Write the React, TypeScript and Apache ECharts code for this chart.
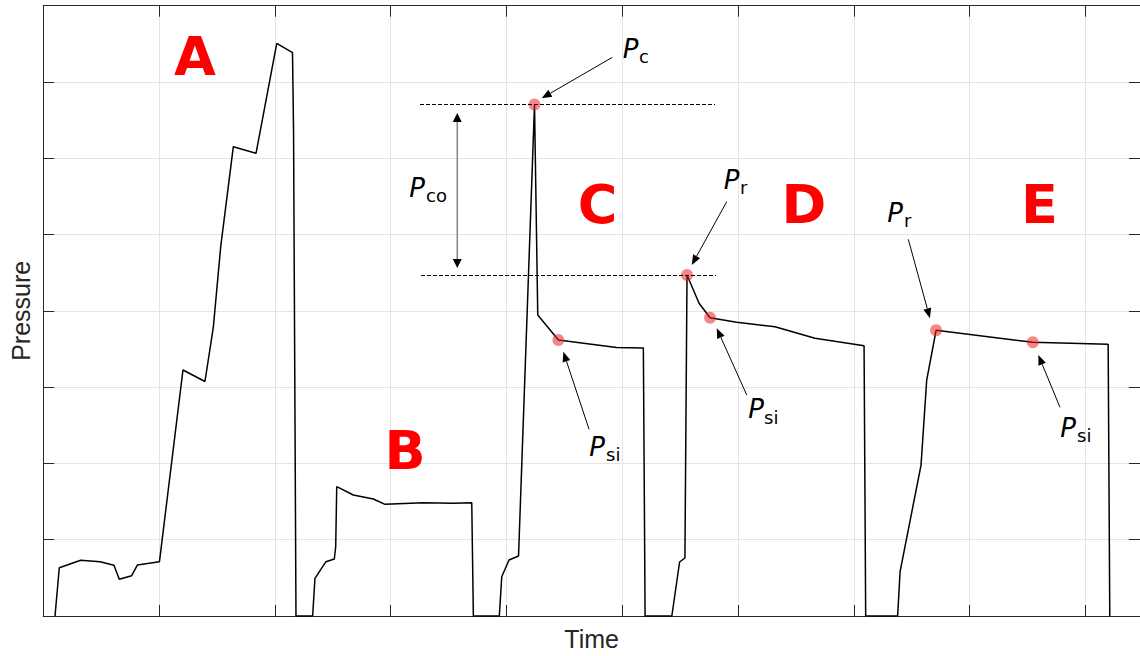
import React, { useEffect, useRef } from "react";
import * as echarts from "echarts";

// Recorded pressure trace (arbitrary units) sampled over time (arbitrary units)
const curveTime = [
  0.102, 0.139, 0.324, 0.491, 0.611, 0.657, 0.764, 0.813, 1.004,
  1.207, 1.397, 1.469, 1.533, 1.642, 1.838, 2.017, 2.153, 2.162, 2.183,
  2.327, 2.347, 2.442, 2.514, 2.526, 2.535, 2.678, 2.851, 2.952, 3.283, 3.542, 3.701, 3.715,
  3.939, 3.96, 4.023, 4.105, 4.243, 4.271, 4.449, 4.952, 5.183, 5.198,
  5.429, 5.496, 5.542, 5.56, 5.664, 5.759, 5.989, 6.32, 6.665, 7.089, 7.103,
  7.379, 7.4, 7.581, 7.63, 7.711, 8.546, 9.197, 9.211,
];
const curvePressure = [
  0, 0.633, 0.73, 0.712, 0.665, 0.481, 0.528, 0.668, 0.712,
  3.225, 3.074, 3.782, 4.841, 6.152, 6.065, 7.507, 7.386, 6.37, 0,
  0, 0.494, 0.712, 0.747, 0.908, 1.695, 1.586, 1.534, 1.464, 1.485, 1.477, 1.485, 0,
  0, 0.515, 0.734, 0.786, 6.705, 3.945, 3.618, 3.519, 3.513, 0,
  0, 0.708, 0.76, 4.47, 4.099, 3.91, 3.85, 3.792, 3.64, 3.543, 0,
  0, 0.581, 1.979, 3.093, 3.745, 3.588, 3.561, 0,
];

// Highlighted points: Pc, Psi(C), Pr(D), Psi(D), Pr(E), Psi(E)
const markerTime = [4.243, 4.449, 5.56, 5.759, 7.711, 8.546];
const markerPressure = [6.705, 3.618, 4.47, 3.91, 3.745, 3.588];

// Dashed reference levels (Pc and Pr)
const refLevel = [6.705, 4.47];
const refStartTime = [3.254, 3.263];
const refEndTime = [5.802, 5.811];

// Annotation arrows (tail -> head), in data units
const arrowFromTime = [4.915, 5.903, 4.714, 6.076, 7.471, 8.781];
const arrowFromPressure = [7.323, 5.431, 2.447, 2.897, 4.938, 2.736];
const arrowToTime = [4.305, 5.601, 4.492, 5.817, 7.658, 8.594];
const arrowToPressure = [6.786, 4.601, 3.464, 3.771, 3.902, 3.421];

// Pco double arrow
const pcoTime = 3.576;
const pcoTop = 6.593;
const pcoBottom = 4.561;

const xMax = 9.472;
const yMax = 8;

export default function App() {
  const ref = useRef<HTMLDivElement>(null);

  useEffect(() => {
    if (!ref.current) return;
    const chart = echarts.init(ref.current, undefined, { renderer: "svg" });
    const axisColor = "#262626";
    const gridColor = "#e4e4e4";
    const nameFont = "Liberation Sans";

    const frameAxis = {
      type: "value",
      interval: 1,
      axisLine: { show: true, onZero: false, lineStyle: { color: axisColor, width: 1 } },
      axisTick: { show: true, inside: true, length: 11, lineStyle: { color: axisColor, width: 1 } },
      axisLabel: { show: false },
    };

    chart.setOption({
      animation: false,
      backgroundColor: "#ffffff",
      grid: { left: 43.2, top: 5.7, width: 1097, height: 610.3, containLabel: false },
      xAxis: [
        {
          ...frameAxis,
          min: 0,
          max: xMax,
          position: "bottom",
          splitLine: { show: true, lineStyle: { color: gridColor, width: 1 } },
          name: "Time",
          nameLocation: "middle",
          nameGap: 10,
          nameTextStyle: { color: axisColor, fontSize: 25, fontFamily: nameFont, verticalAlign: "top" },
        },
        {
          ...frameAxis,
          min: 0,
          max: xMax,
          position: "top",
          splitLine: { show: false },
        },
      ],
      yAxis: [
        {
          ...frameAxis,
          min: 0,
          max: yMax,
          position: "left",
          splitLine: { show: true, lineStyle: { color: gridColor, width: 1 } },
          name: "Pressure",
          nameLocation: "middle",
          nameRotate: 90,
          nameGap: 10,
          nameTextStyle: { color: axisColor, fontSize: 25, fontFamily: nameFont },
        },
        {
          ...frameAxis,
          min: 0,
          max: yMax,
          position: "right",
          splitLine: { show: false },
        },
      ],
      series: [
        {
          type: "line",
          xAxisIndex: 0,
          yAxisIndex: 0,
          data: curveTime.map((t, i) => [t, curvePressure[i]]),
          showSymbol: false,
          symbol: "none",
          lineStyle: { color: "#000000", width: 1.5 },
          silent: true,
          z: 3,
          markLine: {
            silent: true,
            symbol: ["none", "none"],
            label: { show: false },
            lineStyle: { color: "#000000", width: 1, type: [4, 2] },
            data: refLevel.map((lv, i) => [
              { coord: [refStartTime[i], lv] },
              { coord: [refEndTime[i], lv] },
            ]),
          },
        },
        {
          type: "scatter",
          xAxisIndex: 0,
          yAxisIndex: 0,
          data: markerTime.map((t, i) => [t, markerPressure[i]]),
          symbol: "circle",
          symbolSize: 12,
          itemStyle: { color: "rgba(235,30,30,0.66)" },
          silent: true,
          z: 4,
        },
      ],
    });

    const toPx = (x: number, y: number): number[] =>
      chart.convertToPixel({ gridIndex: 0 }, [x, y]) as number[];

    const arrowHead = (tail: number[], tip: number[], len: number, w: number) => {
      const dx = tip[0] - tail[0];
      const dy = tip[1] - tail[1];
      const d = Math.hypot(dx, dy) || 1;
      const ux = dx / d;
      const uy = dy / d;
      const base = [tip[0] - ux * len, tip[1] - uy * len];
      const px = -uy;
      const py = ux;
      return {
        base,
        head: {
          type: "polygon",
          z: 100,
          shape: {
            points: [
              [tip[0], tip[1]],
              [base[0] + (px * w) / 2, base[1] + (py * w) / 2],
              [base[0] - (px * w) / 2, base[1] - (py * w) / 2],
            ],
          },
          style: { fill: "#000000" },
        },
      };
    };

    const graphics: any[] = [];

    arrowFromTime.forEach((ft, i) => {
      const tail = toPx(ft, arrowFromPressure[i]);
      const tip = toPx(arrowToTime[i], arrowToPressure[i]);
      const h = arrowHead(tail, tip, 10, 8);
      graphics.push({
        type: "line",
        z: 100,
        shape: { x1: tail[0], y1: tail[1], x2: h.base[0], y2: h.base[1] },
        style: { stroke: "#000000", lineWidth: 1 },
      });
      graphics.push(h.head);
    });

    // Pco double-headed arrow
    const top = toPx(pcoTime, pcoTop);
    const bot = toPx(pcoTime, pcoBottom);
    const hTop = arrowHead(bot, top, 9, 9);
    const hBot = arrowHead(top, bot, 9, 9);
    graphics.push({
      type: "line",
      z: 100,
      shape: { x1: hTop.base[0], y1: hTop.base[1], x2: hBot.base[0], y2: hBot.base[1] },
      style: { stroke: "#8a8a8a", lineWidth: 1.6 },
    });
    graphics.push(hTop.head, hBot.head);

    // Red region letters
    const letters = [
      { t: "A", x: 195, y: 56 },
      { t: "B", x: 405, y: 450 },
      { t: "C", x: 597.5, y: 204 },
      { t: "D", x: 804, y: 204 },
      { t: "E", x: 1039.5, y: 204 },
    ];
    letters.forEach((l) =>
      graphics.push({
        type: "text",
        z: 100,
        x: l.x,
        y: l.y,
        style: {
          text: l.t,
          fill: "#ff0000",
          fontSize: 54,
          fontWeight: "bold",
          fontFamily: "DejaVu Sans",
          align: "center",
          verticalAlign: "middle",
        },
      })
    );

    // P labels with subscripts
    const pLabels = [
      { sub: "c", x: 630.5, y: 49, sx: 639 },
      { sub: "co", x: 417, y: 187.7, sx: 426 },
      { sub: "r", x: 731.5, y: 180, sx: 740 },
      { sub: "si", x: 597, y: 447, sx: 606 },
      { sub: "si", x: 756, y: 409.3, sx: 764 },
      { sub: "r", x: 895, y: 212.7, sx: 904 },
      { sub: "si", x: 1068, y: 427.7, sx: 1077 },
    ];
    pLabels.forEach((p) => {
      graphics.push({
        type: "text",
        z: 100,
        x: p.x,
        y: p.y,
        style: {
          text: "P",
          fill: "#000000",
          fontSize: 26,
          fontStyle: "italic",
          fontFamily: "DejaVu Sans",
          align: "center",
          verticalAlign: "middle",
        },
      });
      graphics.push({
        type: "text",
        z: 100,
        x: p.sx,
        y: p.y + 7.8,
        style: {
          text: p.sub,
          fill: "#000000",
          fontSize: 18,
          fontFamily: "DejaVu Sans",
          align: "left",
          verticalAlign: "middle",
        },
      });
    });

    chart.setOption({ graphic: graphics });

    return () => {
      chart.dispose();
    };
  }, []);

  return (
    <div
      ref={ref}
      style={{ position: "absolute", left: 0, top: 0, width: 1140, height: 656 }}
    />
  );
}
